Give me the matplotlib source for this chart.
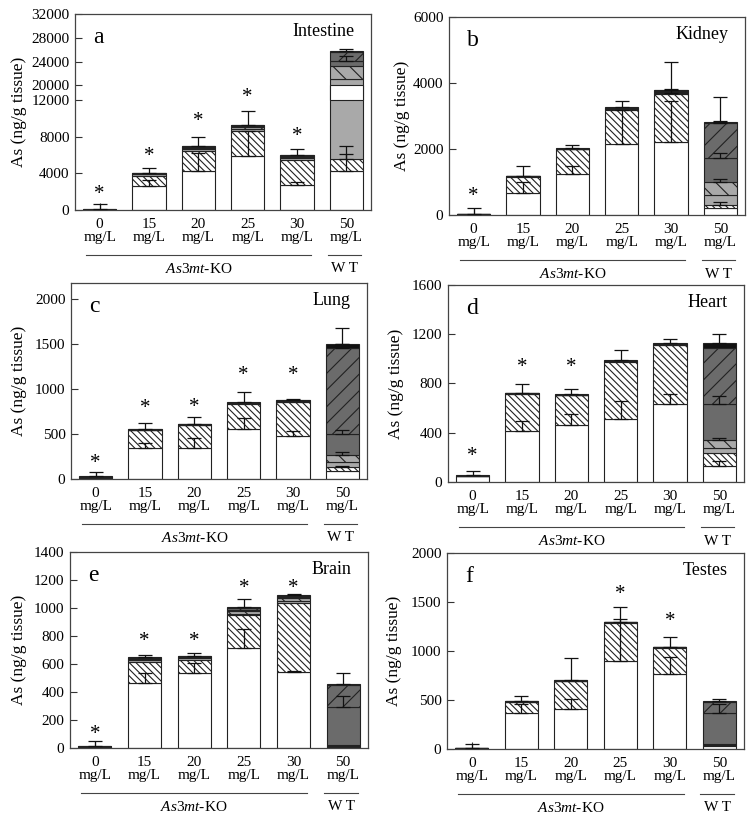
import numpy as np
import matplotlib
matplotlib.use("Agg")
import matplotlib.pyplot as plt

plt.rcParams['font.family'] = ['Liberation Serif', 'DejaVu Serif']
plt.rcParams['mathtext.fontset'] = 'custom'
plt.rcParams['mathtext.rm'] = 'Liberation Serif'
plt.rcParams['mathtext.it'] = 'Liberation Serif:italic'
plt.rcParams['hatch.linewidth'] = 0.8

doses = ["0", "15", "20", "25", "30", "50"]

# segment order (bottom -> top): white, dense hatch, light gray, light gray hatched,
# dark gray, dark gray hatched, black
intestine = [[20, 15, 5, 5, 5, 5, 5],
             [2680, 1100, 120, 60, 40, 30, 20],
             [4220, 2200, 250, 150, 80, 60, 40],
             [5870, 2750, 300, 150, 120, 100, 60],
             [2700, 2800, 200, 150, 100, 60, 50],
             [4220, 1360, 15450, 2170, 950, 1520, 50]]
intestine_err = [[0, 0, 0, 0, 0, 0, 590],
                 [620, 0, 0, 0, 0, 0, 500],
                 [2000, 0, 0, 0, 0, 0, 1000],
                 [2830, 0, 0, 0, 0, 0, 1550],
                 [400, 0, 0, 0, 0, 0, 640],
                 [2740, 520, 0, 0, 750, 0, 480]]
intestine_star = [1650, 5840, 9720, 13760, 8040, None]

kidney = [[10, 10, 2, 2, 2, 2, 2],
          [660, 500, 10, 5, 5, 0, 5],
          [1235, 755, 10, 5, 5, 5, 10],
          [2150, 1040, 20, 10, 10, 10, 30],
          [2225, 1435, 50, 30, 20, 20, 20],
          [200, 100, 310, 400, 710, 1060, 30]]
kidney_err = [[0, 0, 0, 0, 0, 0, 170],
              [350, 0, 0, 0, 0, 0, 315],
              [265, 0, 0, 0, 0, 0, 95],
              [1040, 0, 0, 0, 0, 0, 190],
              [1235, 0, 110, 0, 0, 0, 850],
              [0, 80, 0, 70, 170, 60, 760]]
kidney_star = [560, None, None, None, None, None]

lung = [[10, 8, 2, 2, 2, 2, 2],
        [348, 195, 3, 2, 2, 2, 3],
        [348, 252, 3, 2, 2, 2, 3],
        [559, 275, 6, 4, 3, 3, 3],
        [481, 370, 10, 8, 4, 4, 5],
        [93, 37, 63, 74, 229, 956, 55]]
lung_err = [[0, 0, 0, 0, 0, 0, 52],
            [48, 0, 0, 0, 0, 0, 71],
            [104, 0, 0, 0, 0, 0, 81],
            [122, 0, 0, 0, 0, 0, 114],
            [52, 0, 0, 0, 0, 0, 13],
            [0, 18, 0, 36, 48, 50, 174]]
lung_star = [170, 780, 800, 1150, 1150, None]

heart = [[45, 3, 1, 1, 1, 1, 4],
         [411, 305, 2, 1, 1, 1, 2],
         [462, 241, 2, 2, 1, 1, 3],
         [514, 462, 3, 2, 1, 2, 4],
         [630, 481, 4, 3, 2, 3, 5],
         [132, 103, 41, 62, 297, 452, 41]]
heart_err = [[0, 0, 0, 0, 0, 0, 32],
             [86, 0, 0, 0, 0, 0, 72],
             [89, 0, 0, 0, 0, 0, 42],
             [145, 0, 0, 0, 0, 0, 82],
             [81, 0, 0, 0, 0, 0, 34],
             [41, 0, 0, 19, 60, 0, 73]]
heart_star = [210, 930, 930, None, None, None]

brain = [[5, 2, 1, 1, 1, 1, 1],
         [463, 152, 15, 5, 5, 5, 5],
         [538, 92, 12, 5, 5, 4, 4],
         [712, 238, 10, 17, 10, 10, 9],
         [543, 490, 20, 15, 8, 8, 8],
         [8, 4, 4, 4, 274, 159, 3]]
brain_err = [[0, 0, 0, 0, 0, 0, 35],
             [71, 0, 0, 0, 0, 0, 14],
             [67, 0, 0, 0, 0, 0, 16],
             [140, 0, 0, 0, 0, 0, 59],
             [10, 0, 0, 0, 0, 0, 8],
             [0, 0, 0, 0, 78, 0, 82]]
brain_star = [100, 760, 760, 1140, 1140, None]

testes = [[5, 2, 1, 1, 1, 1, 1],
          [369, 110, 3, 2, 1, 1, 2],
          [410, 285, 1, 1, 1, 1, 1],
          [898, 390, 3, 2, 1, 1, 2],
          [768, 265, 3, 2, 2, 2, 2],
          [34, 8, 6, 6, 315, 112, 7]]
testes_err = [[0, 0, 0, 0, 0, 0, 39],
              [86, 0, 0, 0, 0, 0, 51],
              [102, 0, 0, 0, 0, 0, 225],
              [433, 0, 0, 0, 0, 0, 147],
              [174, 0, 0, 0, 0, 0, 103],
              [0, 0, 0, 0, 95, 0, 27]]
testes_star = [None, None, None, 1580, 1300, None]

fills = ['white', 'white', '#a9a9a9', '#a9a9a9', '#6b6b6b', '#6b6b6b', '#111111']
hatches = [None, '\\\\\\\\\\', None, '\\\\', None, '//', None]


def fwd(v):
    v = np.asarray(v, dtype=float)
    return np.where(v <= 12000, v,
                    np.where(v <= 20000, 12000 + (v - 12000) * 0.2065,
                             13652 + (v - 20000) * 0.652))


def inv(d):
    d = np.asarray(d, dtype=float)
    return np.where(d <= 12000, d,
                    np.where(d <= 13652, 12000 + (d - 12000) / 0.2065,
                             20000 + (d - 13652) / 0.652))


def panel(box, seg, err, stars, ymax, yticks, letter, organ, ylab_x, broken=False):
    l, t, r, b = box
    ax = fig.add_axes([l / 754, 1 - b / 821, (r - l) / 754, (b - t) / 821])
    if broken:
        ax.set_yscale('function', functions=(fwd, inv))
    x = np.arange(len(doses))
    seg = np.array(seg, dtype=float)
    err = np.array(err, dtype=float)
    bottom = np.zeros(len(doses))
    for k in range(seg.shape[1]):
        ax.bar(x, seg[:, k], 0.67, bottom=bottom, color=fills[k], hatch=hatches[k],
               edgecolor='#222222', linewidth=0.8, zorder=2)
        bottom = bottom + seg[:, k]
        m = err[:, k] > 0
        ax.errorbar(x[m], bottom[m], yerr=[np.zeros(m.sum()), err[m, k]], fmt='none',
                    ecolor='#111111', elinewidth=0.9, capsize=5, capthick=0.9, zorder=3)
    if broken:
        # white gap where the axis is broken
        ax.bar([5], [8000], 0.67, bottom=[12000], color='white', edgecolor='#222222',
               linewidth=0.8, zorder=2.5)
    for i, s in enumerate(stars):
        if s is not None:
            ax.text(i, s, '*', ha='center', va='center', fontsize=15, zorder=4)
    ax.set_xlim(-0.5, 5.5)
    ax.set_ylim(0, ymax)
    ax.set_yticks(yticks)
    ax.set_yticklabels([str(v) for v in yticks])
    ax.set_xticks(x)
    ax.set_xticklabels([d + '\nmg/L' for d in doses], linespacing=0.95)
    ax.tick_params(direction='in', labelsize=11, length=5, width=0.8, color='#333333')
    ax.tick_params(axis='x', pad=6)
    ax.tick_params(axis='y', pad=4)
    for sp in ax.spines.values():
        sp.set_color('#444444')
        sp.set_linewidth(0.9)
    ax.set_ylabel('As (ng/g tissue)', fontsize=12.5)
    ax.yaxis.set_label_coords(ylab_x, 0.5)
    ax.text(0.06, 0.88, letter, transform=ax.transAxes, fontsize=17, va='center')
    ax.text(0.945, 0.91, organ, transform=ax.transAxes, fontsize=13, ha='right', va='center')
    tr = ax.get_xaxis_transform()
    ax.plot([-0.27, 4.28], [-0.228, -0.228], transform=tr, color='#444444', lw=0.8, clip_on=False)
    ax.plot([4.62, 5.3], [-0.228, -0.228], transform=tr, color='#444444', lw=0.8, clip_on=False)
    ax.text(2.0, -0.30, r'$\mathit{As3mt}$-KO', transform=tr, ha='center', va='center', fontsize=11)
    ax.text(4.96, -0.30, 'W T', transform=tr, ha='center', va='center', fontsize=11)
    return ax


fig = plt.figure(figsize=(7.54, 8.21), dpi=100)

panel((75, 14, 371, 210), intestine, intestine_err, intestine_star, 32000,
      [0, 4000, 8000, 12000, 20000, 24000, 28000, 32000], 'a', 'Intestine', -0.162, broken=True)
panel((449, 17, 745, 215), kidney, kidney_err, kidney_star, 6000,
      [0, 2000, 4000, 6000], 'b', 'Kidney', -0.132)
panel((71, 283, 367, 479), lung, lung_err, lung_star, 2180,
      [0, 500, 1000, 1500, 2000], 'c', 'Lung', -0.149)
panel((448, 285, 744, 482), heart, heart_err, heart_star, 1600,
      [0, 400, 800, 1200, 1600], 'd', 'Heart', -0.149)
panel((70, 552, 368, 748), brain, brain_err, brain_star, 1400,
      [0, 200, 400, 600, 800, 1000, 1200, 1400], 'e', 'Brain', -0.144)
panel((447, 553, 744, 749), testes, testes_err, testes_star, 2000,
      [0, 500, 1000, 1500, 2000], 'f', 'Testes', -0.152)

fig.savefig('out.png', dpi=100)
